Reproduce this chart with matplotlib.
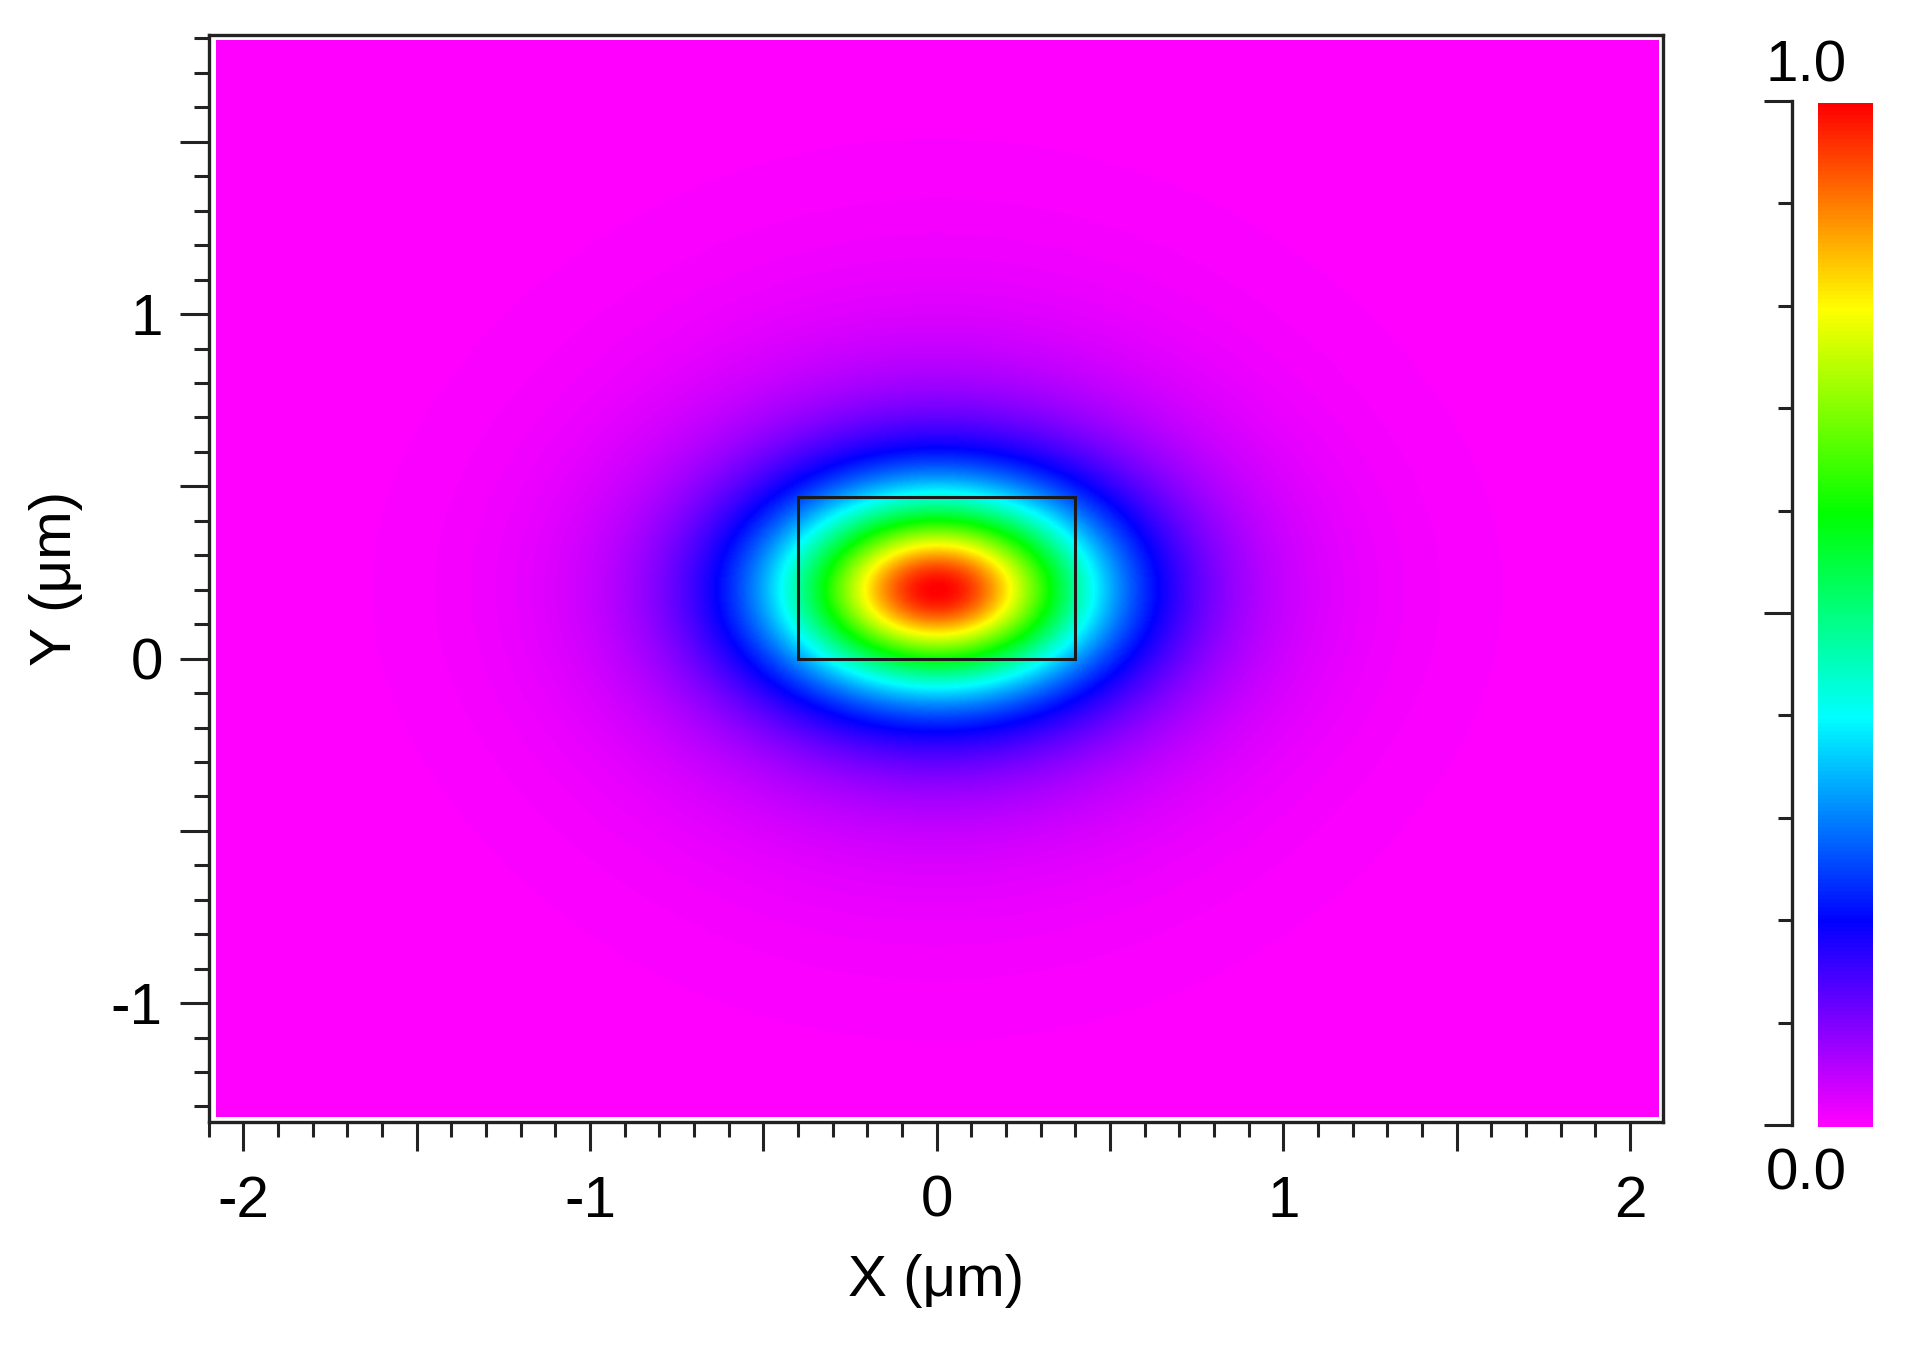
import numpy as np
import matplotlib
matplotlib.use("Agg")
import matplotlib.pyplot as plt
from matplotlib.colors import LinearSegmentedColormap
from matplotlib.patches import Rectangle
from matplotlib.ticker import FixedLocator, MultipleLocator

plt.rcParams['font.family'] = ['Liberation Sans', 'DejaVu Sans']

# ---------------- data ----------------
x_range = [-2.08, 2.08]          # simulated window (um)
y_range = [-1.33, 1.795]
mode_center = [0.0, 0.2]         # peak position of the mode (um)
core_widths = [0.415, 0.25]      # sech^2 core half-widths in x, y (um)
tail_widths = [0.60, 0.52]       # weak broad tail widths in x, y (um)
tail_weight = 0.15
waveguide = [-0.4, 0.0, 0.8, 0.47]   # x, y, width, height (um)

x_ticks = [-2, -1, 0, 1, 2]
x_ticklabels = ['-2', '-1', '0', '1', '2']
y_ticks = [-1, 0, 1]
y_ticklabels = ['-1', '0', '1']

cbar_stops = [0.0, 0.1, 0.2, 0.4, 0.6, 0.8, 0.9, 1.0]
cbar_colors = ['#ff00ff', '#8000ff', '#0000ff', '#00ffff',
               '#00ff00', '#ffff00', '#ff8000', '#ff0000']
cbar_labels = ['0.0', '1.0']

# ---------------- field ----------------
cmap = LinearSegmentedColormap.from_list('mode', list(zip(cbar_stops, cbar_colors)))

xs = np.linspace(x_range[0], x_range[1], 900)
ys = np.linspace(y_range[0], y_range[1], 680)
X, Y = np.meshgrid(xs, ys)


def sech2(u):
    return 1.0 / np.cosh(u) ** 2


rc = np.hypot((X - mode_center[0]) / core_widths[0], (Y - mode_center[1]) / core_widths[1])
rt = np.hypot((X - mode_center[0]) / tail_widths[0], (Y - mode_center[1]) / tail_widths[1])
field = (1 - tail_weight) * sech2(rc) + tail_weight * sech2(rt)
field = field / field.max()

# ---------------- figure ----------------
W, H = 1910, 1346
fig = plt.figure(figsize=(W / 100, H / 100), dpi=100)

ax = fig.add_axes([208.6 / W, 1 - 1122 / H, (1663 - 208.6) / W, (1122 - 35) / H])
im = ax.imshow(field, extent=[x_range[0], x_range[1], y_range[0], y_range[1]],
               origin='lower', cmap=cmap, vmin=0, vmax=1, aspect='auto',
               interpolation='bilinear')
ax.set_xlim(-2.1, 2.095)
ax.set_ylim(-1.345, 1.81)

ax.add_patch(Rectangle((waveguide[0], waveguide[1]), waveguide[2], waveguide[3],
                       fill=False, edgecolor='#1a1a1a', linewidth=2.2))

fs = 42
xmaj = np.arange(-2.0, 2.01, 0.5)
xlab = dict(zip(x_ticks, x_ticklabels))
ax.set_xticks(xmaj)
ax.set_xticklabels([xlab.get(int(round(v)), '') if abs(v - round(v)) < 1e-9 else '' for v in xmaj])
ymaj = np.arange(-1.0, 1.51, 0.5)
ylab = dict(zip(y_ticks, y_ticklabels))
ax.set_yticks(ymaj)
ax.set_yticklabels([ylab.get(int(round(v)), '') if abs(v - round(v)) < 1e-9 else '' for v in ymaj])
ax.xaxis.set_minor_locator(MultipleLocator(0.1))
ax.yaxis.set_minor_locator(MultipleLocator(0.1))
ax.tick_params(which='major', direction='out', length=21, width=2.2, labelsize=fs, pad=12, color='#222222')
ax.tick_params(axis='x', which='major', pad=17)
ax.tick_params(which='minor', direction='out', length=10.5, width=2.2, color='#222222')
ax.tick_params(top=False, right=False, which='both')
for s in ax.spines.values():
    s.set_linewidth(2.4)
    s.set_color('#222222')

ax.set_xlabel('X (μm)', fontsize=fs, labelpad=18)
ax.set_ylabel('Y (μm)', fontsize=fs, labelpad=20)

# colorbar bar
cax = fig.add_axes([1818 / W, 1 - 1127 / H, 55 / W, (1127 - 103) / H])
cb = fig.colorbar(im, cax=cax)
cb.outline.set_visible(False)
cax.set_yticks([])

# separate tick axis to the left of the bar
tax = fig.add_axes([1700 / W, 1 - 1125 / H, 92 / W, (1125 - 101) / H])
tax.patch.set_visible(False)
for side in ['left', 'top', 'bottom']:
    tax.spines[side].set_visible(False)
tax.spines['right'].set_linewidth(2.4)
tax.spines['right'].set_color('#222222')
tax.set_xticks([])
tax.set_ylim(0, 1)
tax.yaxis.set_ticks_position('right')
tax.yaxis.set_major_locator(FixedLocator([0.0, 0.5, 1.0]))
tax.yaxis.set_minor_locator(MultipleLocator(0.1))
tax.tick_params(axis='y', which='major', direction='in', length=20, width=2.2,
                labelright=False, color='#222222')
tax.tick_params(axis='y', which='minor', direction='in', length=10, width=2.2, color='#222222')
tax.text(1.0 + 14 / 92, 1.0 + 34 / 1024, cbar_labels[1], transform=tax.transAxes,
         ha='center', va='center', fontsize=fs)
tax.text(1.0 + 14 / 92, -50 / 1024, cbar_labels[0], transform=tax.transAxes,
         ha='center', va='center', fontsize=fs)

fig.savefig('out.png', dpi=100)
